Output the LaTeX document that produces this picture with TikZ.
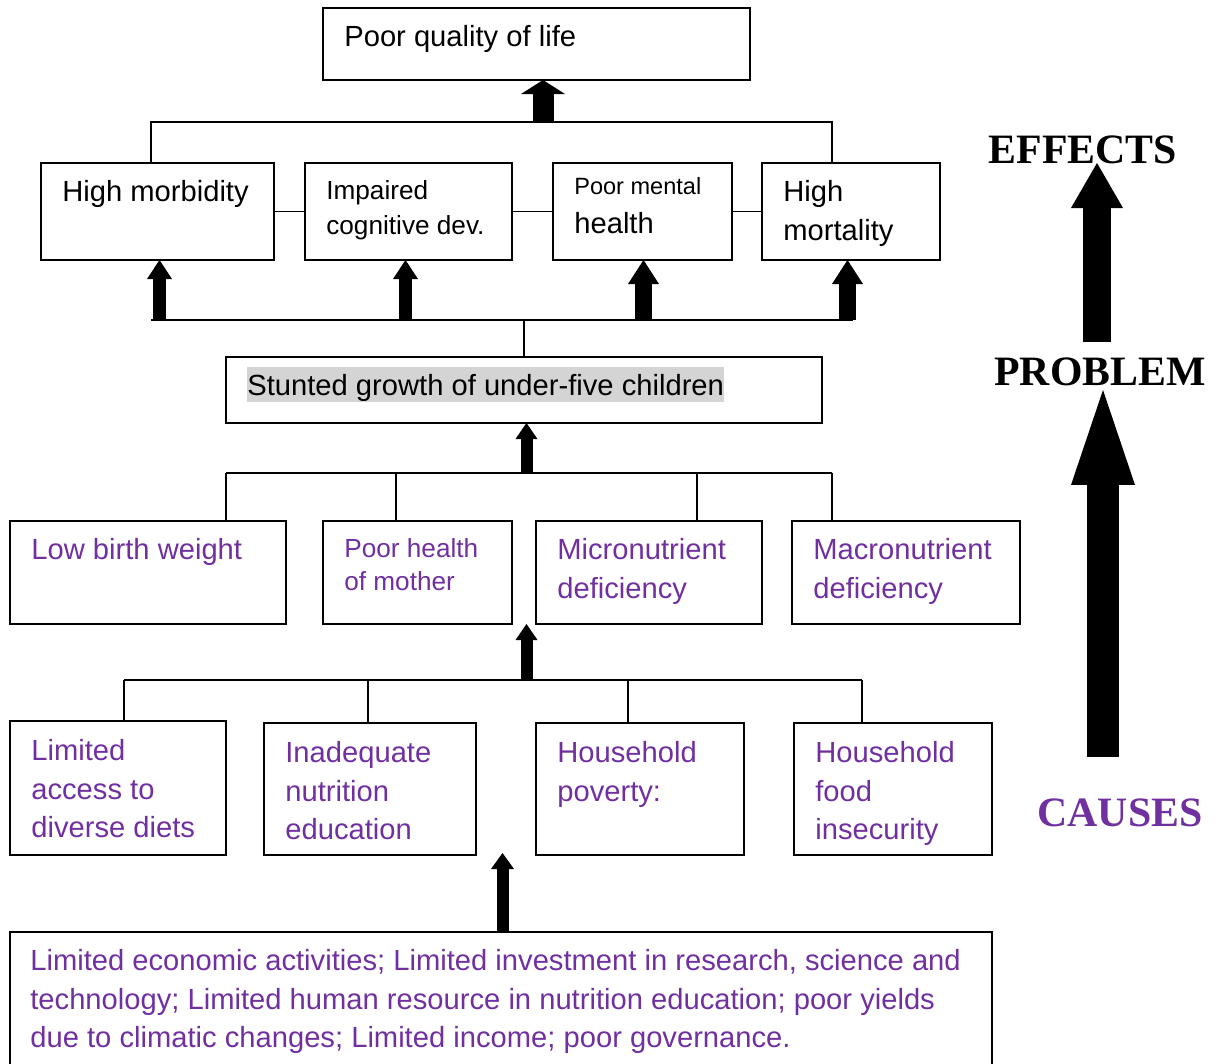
\documentclass[tikz,border=0pt]{standalone}
\usepackage{fontspec}
\setmainfont{Liberation Sans}
\newfontfamily\headfont{Liberation Serif}
\usetikzlibrary{arrows.meta}

\definecolor{causepurple}{HTML}{7030A0}
\definecolor{markgrey}{HTML}{D4D4D4}
\newcommand{\unitpx}{0.02cm}

\tikzset{
    box/.style 2 args={draw, line width=1.1pt, inner sep=0pt, outer sep=0pt, anchor=north west,
        minimum width=#1*\unitpx, minimum height=#2*\unitpx},
    boxtext/.style={anchor=north west, inner sep=0pt, align=left, xshift=21*\unitpx, yshift=-17*\unitpx,
        font=\fontsize{16.6}{22}\selectfont},
    causetext/.style={boxtext, text=causepurple},
    link/.style={line width=0.8pt},
    upar/.style n args={3}{line width=#1, -{Triangle[width=#2, length=#3, line width=0pt]}},
    heading/.style={anchor=base, inner sep=0pt, font=\headfont\bfseries\fontsize{23.8}{28}\selectfont}
}

\begin{document}
\begin{tikzpicture}[x=0.02cm, y=-0.02cm]

    \clip (0,0) rectangle (1218,1063);

    % effects
    \node[box={427}{72}, label={[boxtext]north west:{Poor quality of life}}] (quality) at (323,8) {};
    \node[box={233}{97}, label={[boxtext]north west:{High morbidity}}] (morb) at (41,163) {};
    \node[box={207}{97}, label={[boxtext, font=\fontsize{14.9}{19.8}\selectfont]north west:{Impaired\\cognitive dev.}}] (cogn) at (305,163) {};
    \node[box={179}{97}, label={[boxtext, yshift=3*\unitpx]north west:{{\fontsize{13.4}{16}\selectfont Poor mental}\\health}}] (mental) at (553,163) {};
    \node[box={178}{97}, label={[boxtext]north west:{High\\mortality}}] (mort) at (762,163) {};

    % problem
    \node[box={596}{66}, label={[boxtext, fill=markgrey, text height=0.56cm, text depth=0.14cm, yshift=7*\unitpx]north west:{Stunted growth of under-five children}}] (stunt) at (226,357) {};

    % causes
    \node[box={276}{103}, label={[causetext]north west:{Low birth weight}}] (lbw) at (10,521) {};
    \node[box={189}{103}, label={[causetext, font=\fontsize{14.9}{18.7}\selectfont]north west:{Poor health\\of mother}}] (mother) at (323,521) {};
    \node[box={226}{103}, label={[causetext]north west:{Micronutrient\\deficiency}}] (micro) at (536,521) {};
    \node[box={228}{103}, label={[causetext]north west:{Macronutrient\\deficiency}}] (macro) at (792,521) {};

    \node[box={216}{134}, label={[causetext, yshift=-1*\unitpx]north west:{Limited\\access to\\diverse diets}}] (diets) at (10,721) {};
    \node[box={212}{132}, label={[causetext, yshift=-1*\unitpx]north west:{Inadequate\\nutrition\\education}}] (educ) at (264,723) {};
    \node[box={208}{132}, label={[causetext, yshift=-1*\unitpx]north west:{Household\\poverty:}}] (poverty) at (536,723) {};
    \node[box={198}{132}, label={[causetext, yshift=-1*\unitpx]north west:{Household\\food\\insecurity}}] (food) at (794,723) {};

    \node[box={982}{170}, label={[causetext, xshift=-1*\unitpx]north west:{Limited economic activities; Limited investment in research, science and\\technology; Limited human resource in nutrition education; poor yields\\due to climatic changes; Limited income; poor governance.}}] (roots) at (10,932) {};

    % headings on the right
    \node[heading] (effects) at (1083,163) {EFFECTS};
    \node[heading] (problem) at (1100,385) {PROBLEM};
    \node[heading, text=causepurple] (causes) at (1120,826) {CAUSES};

    % connectors
    \coordinate (efl) at (151,122);
    \coordinate (efr) at (832,122);
    \draw[link] (efl |- morb.north) -- (efl) -- (efr) -- (efr |- mort.north);
    \draw[upar={0.42cm}{0.88cm}{0.28cm}] (543,122) -- (543,122 |- quality.south);
    \draw[link] (morb) -- (cogn) -- (mental) -- (mort);

    \coordinate (pbl) at (151,320);
    \coordinate (pbr) at (853,320);
    \draw[link] (pbl) -- (pbr);
    \draw[link] (stunt.north) -- (stunt.north |- pbl);
    \foreach \ax/\tgt in {159.5/morb, 405.5/cogn}
        \draw[upar={0.26cm}{0.5cm}{0.38cm}] (\ax,321 |- pbl) -- (\ax,321 |- \tgt.south);
    \foreach \ax/\tgt in {643.5/mental, 847.5/mort}
        \draw[upar={0.34cm}{0.62cm}{0.48cm}] (\ax,321 |- pbl) -- (\ax,321 |- \tgt.south);

    \coordinate (cjl) at (226,473);
    \coordinate (cjr) at (832,473);
    \draw[link] (cjl) -- (cjr);
    \foreach \dx/\tgt in {226/lbw, 396/mother, 697/micro, 832/macro}
        \draw[link] (\dx,473 |- cjl) -- (\dx,473 |- \tgt.north);
    \draw[upar={0.24cm}{0.44cm}{0.32cm}] (526.5,473 |- cjl) -- (526.5,473 |- stunt.south);

    \coordinate (rjl) at (124,680);
    \coordinate (rjr) at (862,680);
    \draw[link] (rjl) -- (rjr);
    \foreach \dx/\tgt in {124/diets, 368/educ, 628/poverty, 862/food}
        \draw[link] (\dx,680 |- rjl) -- (\dx,680 |- \tgt.north);
    \draw[upar={0.24cm}{0.44cm}{0.32cm}] (526.5,680 |- rjl) -- (526.5,680 |- mother.south);
    \draw[upar={0.24cm}{0.46cm}{0.32cm}] (502.5,932 |- roots.north) -- (502.5,853);

    \coordinate (effbase) at (1097,342);
    \coordinate (causetop) at (1103,757);
    \draw[upar={0.56cm}{1.04cm}{0.9cm}] (effbase) -- (effbase |- effects.base);
    \draw[upar={0.64cm}{1.28cm}{1.9cm}] (causetop) -- (1103,390);
\end{tikzpicture}
\end{document}
